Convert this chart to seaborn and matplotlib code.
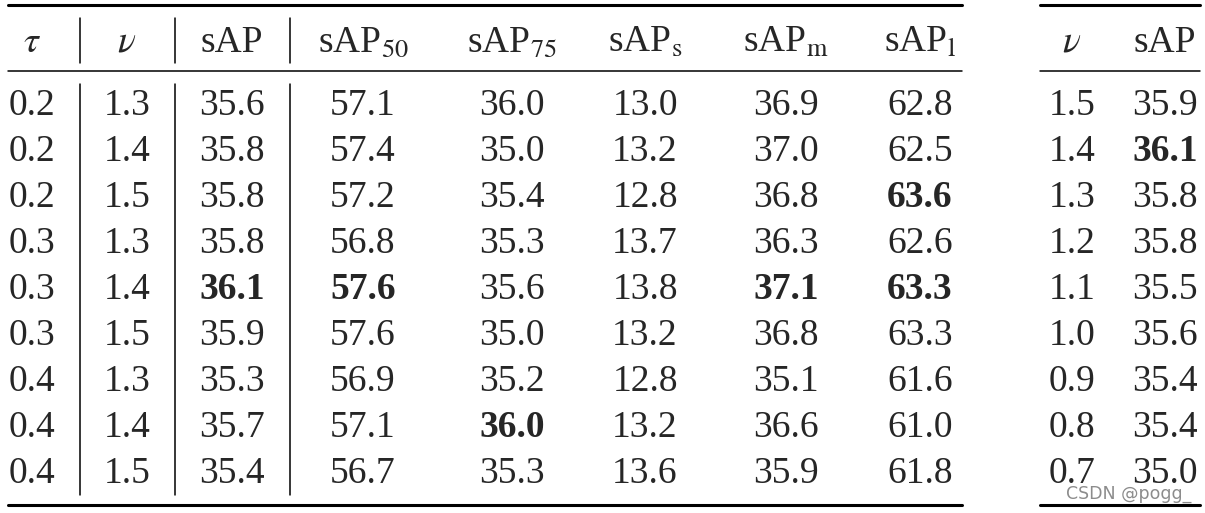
import matplotlib
matplotlib.use('Agg')
import matplotlib.pyplot as plt
import seaborn as sns

# main table
tau = ['0.2', '0.2', '0.2', '0.3', '0.3', '0.3', '0.4', '0.4', '0.4']
nu = ['1.3', '1.4', '1.5', '1.3', '1.4', '1.5', '1.3', '1.4', '1.5']
sap = ['35.6', '35.8', '35.8', '35.8', '36.1', '35.9', '35.3', '35.7', '35.4']
sap50 = ['57.1', '57.4', '57.2', '56.8', '57.6', '57.6', '56.9', '57.1', '56.7']
sap75 = ['36.0', '35.0', '35.4', '35.3', '35.6', '35.0', '35.2', '36.0', '35.3']
saps = ['13.0', '13.2', '12.8', '13.7', '13.8', '13.2', '12.8', '13.2', '13.6']
sapm = ['36.9', '37.0', '36.8', '36.3', '37.1', '36.8', '35.1', '36.6', '35.9']
sapl = ['62.8', '62.5', '63.6', '62.6', '63.3', '63.3', '61.6', '61.0', '61.8']
headers = [r'$\tau$', r'$\nu$', 'sAP', r'sAP$_{\mathrm{50}}$', r'sAP$_{\mathrm{75}}$',
           r'sAP$_{\mathrm{s}}$', r'sAP$_{\mathrm{m}}$', r'sAP$_{\mathrm{l}}$']
# bold cells (row, col)
bold = {(4, 2), (4, 3), (2, 7), (4, 6), (4, 7), (7, 4)}

# side table
nu2 = ['1.5', '1.4', '1.3', '1.2', '1.1', '1.0', '0.9', '0.8', '0.7']
sap2 = ['35.9', '36.1', '35.8', '35.8', '35.5', '35.6', '35.4', '35.4', '35.0']
headers2 = [r'$\nu$', 'sAP']
bold2 = {(1, 1)}

sns.set_theme(style='white')
plt.rcParams['font.family'] = ['Liberation Serif']
plt.rcParams['mathtext.fontset'] = 'stix'

fig = plt.figure(figsize=(12.05, 5.13), dpi=100)
ax = fig.add_axes([0, 0, 1, 1])
ax.set_xlim(0, 1205)
ax.set_ylim(513, 0)
ax.axis('off')

fs = 27
col_x = [32, 127, 232, 363, 512, 645, 786, 920]
col_x2 = [1072, 1165]
row_y = [115 + 46 * i for i in range(9)]
head_y = 52

cols = [tau, nu, sap, sap50, sap75, saps, sapm, sapl]
for j, h in enumerate(headers):
    ax.text(col_x[j], head_y, h, ha='center', va='baseline', fontsize=fs)
for j, c in enumerate(cols):
    for i, v in enumerate(c):
        w = 'bold' if (i, j) in bold else 'normal'
        ax.text(col_x[j], row_y[i], v, ha='center', va='baseline', fontsize=fs, fontweight=w)

cols2 = [nu2, sap2]
for j, h in enumerate(headers2):
    ax.text(col_x2[j], head_y, h, ha='center', va='baseline', fontsize=fs)
for j, c in enumerate(cols2):
    for i, v in enumerate(c):
        w = 'bold' if (i, j) in bold2 else 'normal'
        ax.text(col_x2[j], row_y[i], v, ha='center', va='baseline', fontsize=fs, fontweight=w)

# rules
for x0, x1 in [(8, 962), (1040, 1200)]:
    ax.plot([x0, x1], [5, 5], color='black', lw=2.2)
    ax.plot([x0, x1], [71, 71], color='black', lw=1.1)
    ax.plot([x0, x1], [505, 505], color='black', lw=2.2)

for x in [80, 175, 290]:
    ax.plot([x, x], [18, 63], color='black', lw=1.1)
    ax.plot([x, x], [84, 495], color='black', lw=1.1)

ax.text(1066, 494, 'CSDN @pogg_', fontsize=12.5, color='#8c8c8c', family='DejaVu Sans',
        ha='left', va='center')

fig.savefig('out.png', dpi=100)
